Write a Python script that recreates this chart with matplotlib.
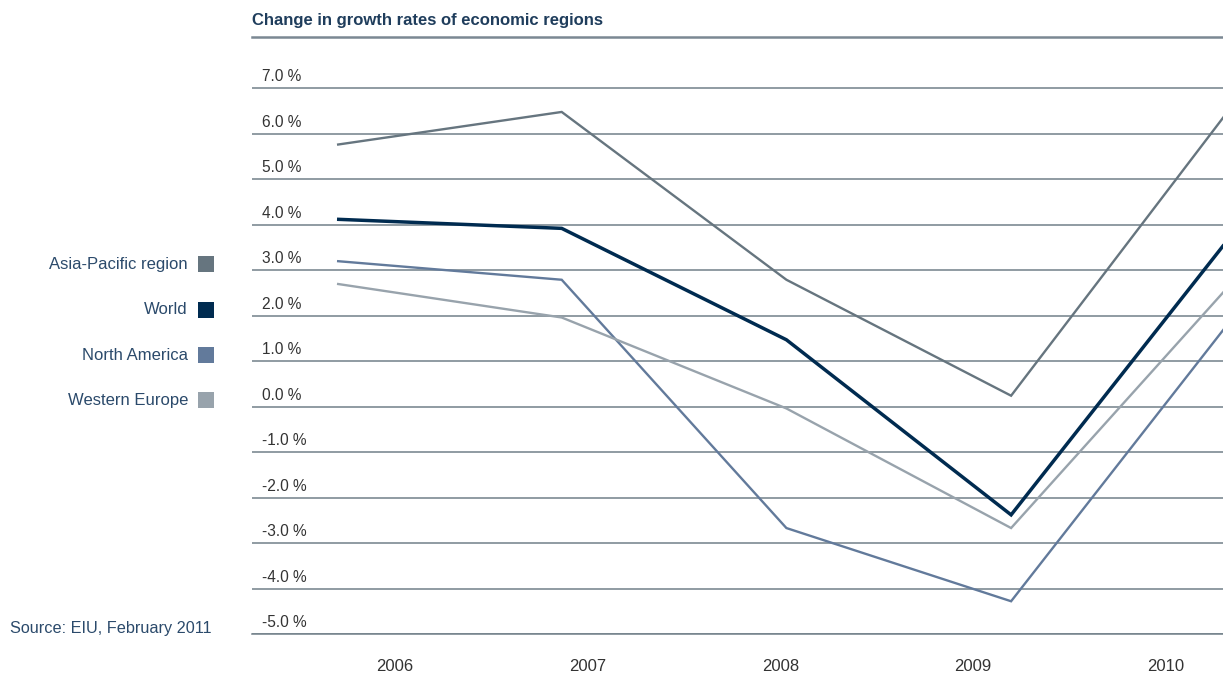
import matplotlib
matplotlib.use("Agg")
import matplotlib.pyplot as plt
from matplotlib.patches import Rectangle

# Real GDP growth by economic region, % change on previous year
years = [2006, 2007, 2008, 2009, 2010]
asia_pacific = [5.76, 6.48, 2.79, 0.24, 6.72]
world = [4.12, 3.92, 1.47, -2.38, 3.89]
north_america = [3.20, 2.79, -2.67, -4.28, 2.04]
western_europe = [2.70, 1.96, -0.04, -2.67, 2.82]

series_names = ["Asia-Pacific region", "World", "North America", "Western Europe"]
series_values = [asia_pacific, world, north_america, western_europe]
series_colors = ["#66757f", "#002b50", "#627a9b", "#98a3ac"]
series_widths = [1.7, 2.5, 1.7, 1.7]

y_ticks = list(range(-5, 8))
y_tick_labels = [f"{v:.1f} %" for v in y_ticks]
year_labels = [str(y) for y in years]

plt.rcParams["font.family"] = ["Liberation Sans", "DejaVu Sans"]

W, H = 1223, 675
fig = plt.figure(figsize=(W / 100, H / 100), dpi=100)
ax = fig.add_axes([252 / W, 1 - 634 / H, 1 - 252 / W, (634 - 37) / H])

# axis ranges: one year = 224.7 px, one percentage point = 45.5 px
px_year = 224.7
px_unit = (634 - 88.3) / 12
ax.set_xlim(2006 - (337 - 252) / px_year, 2006 + (1223 - 337) / px_year)
ax.set_ylim(-5, 7 + (88.3 - 37) / px_unit)

grid_color = "#718089"
for spine in ["left", "right"]:
    ax.spines[spine].set_visible(False)
ax.spines["top"].set_color("#7b8893")
ax.spines["top"].set_linewidth(1.8)
ax.spines["bottom"].set_color(grid_color)
ax.spines["bottom"].set_linewidth(1.1)

ax.set_yticks(y_ticks)
ax.set_yticklabels([])
ax.tick_params(axis="y", length=0)
ax.yaxis.grid(True, color=grid_color, linewidth=1.1)
ax.set_axisbelow(True)

# value labels sit just above their gridline
for v, lab in zip(y_ticks, y_tick_labels):
    ax.annotate(lab, xy=(0, v), xycoords=("axes fraction", "data"),
                xytext=(10, 4), textcoords="offset pixels",
                ha="left", va="bottom", fontsize=11.2, color="#333333")

# year labels are spread evenly along the axis
x0, x1 = ax.get_xlim()
label_pos = [x0 + (0.147 + 0.1985 * i) * (x1 - x0) for i in range(len(years))]
ax.set_xticks(label_pos)
ax.set_xticklabels(year_labels, fontsize=12, color="#333333")
ax.tick_params(axis="x", length=0, pad=18)

for name, vals, col, lw in zip(series_names, series_values, series_colors, series_widths):
    ax.plot(years, vals, color=col, linewidth=lw, solid_joinstyle="miter",
            solid_capstyle="butt", zorder=3, label=name)

# title
fig.text(252 / W, 1 - 20 / H, "Change in growth rates of economic regions",
         ha="left", va="center", fontsize=12, fontweight="bold", color="#1f3d5c")

# legend on the left
legend_y = [264, 310, 355, 400]
for name, col, yc in zip(series_names, series_colors, legend_y):
    fig.text(188 / W, 1 - yc / H, name, ha="right", va="center",
             fontsize=12, color="#2b4a6b")
    fig.patches.append(Rectangle((198 / W, 1 - (yc + 8) / H), 16 / W, 16 / H,
                                 transform=fig.transFigure, facecolor=col,
                                 edgecolor="none"))

fig.text(10 / W, 1 - 628 / H, "Source: EIU, February 2011", ha="left", va="center",
         fontsize=11.7, color="#2b4a6b")

fig.savefig("out.png", dpi=100)
